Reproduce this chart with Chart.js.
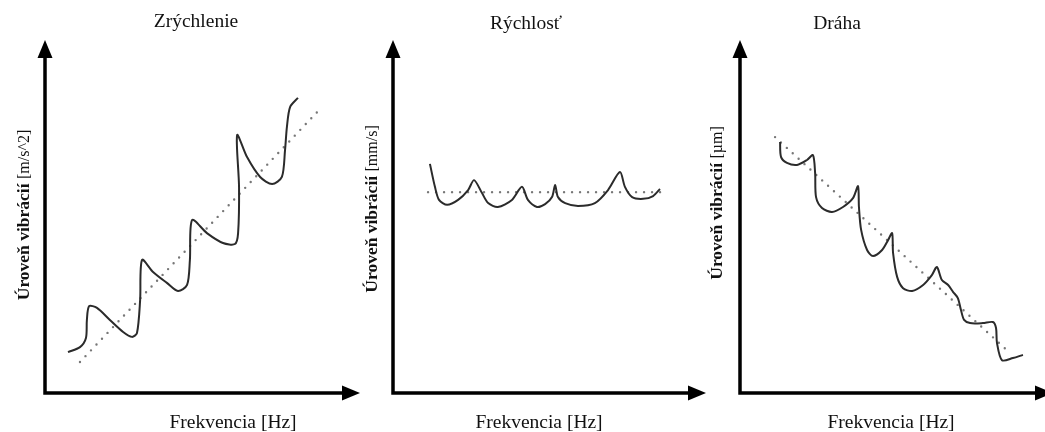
<!DOCTYPE html>
<html>
<head>
<meta charset="utf-8">
<script src="https://cdn.jsdelivr.net/npm/chart.js@4.4.1/dist/chart.umd.min.js"></script>
<style>
  html, body { margin: 0; padding: 0; background: #fff; overflow: hidden; width: 1045px; height: 432px; }
  .panel { position: absolute; top: 0; }
</style>
</head>
<body>
<div class="panel" style="left:0px"><canvas id="c0" width="370" height="432"></canvas></div>
<div class="panel" style="left:345px"><canvas id="c1" width="370" height="432"></canvas></div>
<div class="panel" style="left:690px"><canvas id="c2" width="370" height="432"></canvas></div>
<script>
// ---------- texts ----------
const TITLES = ["Zrýchlenie", "Rýchlosť", "Dráha"];
const X_LABELS = ["Frekvencia [Hz]", "Frekvencia [Hz]", "Frekvencia [Hz]"];
const Y_LABELS = ["Úroveň vibrácií", "Úroveň vibrácií", "Úroveň vibrácií"];
const Y_UNITS = ["[m/s^2]", "[mm/s]", "[µm]"];

// ---------- data (frequency 0..100, level 0..100, arbitrary units) ----------
// Zrýchlenie (acceleration)
const ACC_FREQ  = [7.3, 11.1, 13.0, 13.3, 14.0, 16.5, 20.6, 24.8, 27.6, 29.2, 30.2, 30.8, 34.3, 38.7, 42.2, 45.1, 46.0, 46.7, 51.4, 56.5, 60.3, 61.3, 61.6, 61.0, 64.1, 68.3, 72.1, 75.2, 76.2, 76.8, 77.8, 80.3];
const ACC_LEVEL = [11.6, 13.0, 15.6, 20.7, 24.6, 24.1, 20.7, 17.3, 15.9, 17.0, 26.3, 37.7, 34.3, 31.2, 28.9, 30.6, 37.7, 49.0, 45.3, 42.5, 42.2, 45.3, 58.4, 73.1, 66.9, 61.2, 59.2, 61.2, 68.8, 75.4, 81.0, 83.6];
const ACC_TREND_FREQ  = [11.1, 87.9];
const ACC_TREND_LEVEL = [8.8, 81.0];

// Rýchlosť (velocity)
const VEL_FREQ  = [11.8, 13.4, 14.7, 17.3, 20.8, 24.0, 25.9, 28.4, 30.4, 33.5, 38.0, 41.2, 43.1, 46.0, 48.6, 50.8, 51.8, 52.7, 55.0, 59.1, 64.5, 68.7, 72.5, 74.1, 76.4, 79.9, 83.1, 85.3];
const VEL_LEVEL = [64.9, 58.4, 54.7, 53.3, 54.7, 57.5, 60.3, 56.7, 53.8, 52.7, 54.7, 58.4, 54.7, 52.7, 53.5, 55.5, 58.9, 55.5, 53.8, 53.0, 53.8, 57.5, 62.6, 58.4, 55.5, 55.0, 55.8, 57.8];
const VEL_TREND_FREQ  = [11.2, 86.3];
const VEL_TREND_LEVEL = [56.9, 56.9];

// Dráha (displacement)
const DIS_FREQ  = [12.8, 13.1, 15.0, 18.2, 21.4, 23.3, 24.0, 24.3, 26.2, 29.4, 32.9, 36.1, 37.7, 38.0, 38.7, 40.6, 42.5, 45.4, 47.3, 48.6, 48.9, 50.2, 52.1, 55.0, 58.5, 61.3, 62.9, 64.5, 66.5, 68.1, 69.6, 70.6, 71.6, 73.5, 77.6, 80.8, 81.8, 82.1, 83.7, 87.2, 90.4];
const DIS_LEVEL = [71.1, 66.9, 65.2, 64.6, 66.0, 67.4, 62.3, 55.5, 52.4, 51.3, 52.7, 55.2, 58.6, 52.7, 46.2, 40.5, 38.8, 40.5, 43.3, 45.3, 39.7, 32.9, 29.7, 28.9, 30.6, 33.4, 35.7, 32.0, 30.6, 28.6, 26.9, 23.5, 20.7, 19.8, 19.8, 20.1, 18.4, 14.2, 9.3, 9.9, 10.8];
const DIS_TREND_FREQ  = [11.2, 86.3];
const DIS_TREND_LEVEL = [72.5, 11.3];

// ---------- layout (positions in canvas pixels, not data) ----------
const PANELS = [
  { id: "c0", pad: { left: 45, right: 10, top: 40, bottom: 39 }, titleX: 196, titleY: 27, xLabX: 233, yLabX: 29, yLabC: 215 },
  { id: "c1", pad: { left: 48, right: 9,  top: 40, bottom: 39 }, titleX: 181, titleY: 29, xLabX: 194, yLabX: 32, yLabC: 209 },
  { id: "c2", pad: { left: 50, right: 7,  top: 40, bottom: 39 }, titleX: 147, titleY: 29, xLabX: 201, yLabX: 32, yLabC: 203 }
];

const SERIES = [
  [ACC_FREQ, ACC_LEVEL, ACC_TREND_FREQ, ACC_TREND_LEVEL],
  [VEL_FREQ, VEL_LEVEL, VEL_TREND_FREQ, VEL_TREND_LEVEL],
  [DIS_FREQ, DIS_LEVEL, DIS_TREND_FREQ, DIS_TREND_LEVEL]
];

const zip = (xs, ys) => xs.map((x, i) => ({ x: x, y: ys[i] }));

const SERIF = "'Liberation Serif', 'Times New Roman', serif";

const decorPlugin = {
  id: "decor",
  afterDraw(chart, args, opts) {
    const ctx = chart.ctx;
    const a = chart.chartArea;
    ctx.save();
    // axes with arrowheads
    ctx.strokeStyle = "#000";
    ctx.fillStyle = "#000";
    ctx.lineWidth = 3.5;
    ctx.lineJoin = "miter";
    ctx.beginPath();
    ctx.moveTo(a.left, a.top + 12);
    ctx.lineTo(a.left, a.bottom);
    ctx.lineTo(a.right - 12, a.bottom);
    ctx.stroke();
    ctx.beginPath();
    ctx.moveTo(a.left, a.top);
    ctx.lineTo(a.left - 7.5, a.top + 18);
    ctx.lineTo(a.left + 7.5, a.top + 18);
    ctx.closePath();
    ctx.fill();
    ctx.beginPath();
    ctx.moveTo(a.right, a.bottom);
    ctx.lineTo(a.right - 18, a.bottom - 7.5);
    ctx.lineTo(a.right - 18, a.bottom + 7.5);
    ctx.closePath();
    ctx.fill();

    // title
    ctx.fillStyle = "#111";
    ctx.textAlign = "center";
    ctx.textBaseline = "alphabetic";
    ctx.font = "19.5px " + SERIF;
    ctx.fillText(opts.title, opts.titleX, opts.titleY);
    // x label
    ctx.fillText(opts.xLabel, opts.xLabX, 428);

    // y label (bold part + normal unit part), rotated
    const boldFont = "bold 17.5px " + SERIF;
    const unitFont = "16px " + SERIF;
    ctx.font = boldFont;
    const wb = ctx.measureText(opts.yLabel + " ").width;
    ctx.font = unitFont;
    const wu = ctx.measureText(opts.yUnit).width;
    const total = wb + wu;
    ctx.translate(opts.yLabX, opts.yLabC + total / 2);
    ctx.rotate(-Math.PI / 2);
    ctx.textAlign = "left";
    ctx.font = boldFont;
    ctx.fillText(opts.yLabel, 0, 0);
    ctx.font = unitFont;
    ctx.fillText(opts.yUnit, wb, 0);
    ctx.restore();
  }
};

PANELS.forEach((p, i) => {
  const [fx, fy, tx, ty] = SERIES[i];
  new Chart(document.getElementById(p.id), {
    type: "scatter",
    data: {
      datasets: [
        {
          data: zip(fx, fy),
          showLine: true,
          borderColor: "#2b2b2b",
          borderWidth: 2,
          pointRadius: 0,
          tension: 0.28,
          fill: false
        },
        {
          data: zip(tx, ty),
          showLine: true,
          borderColor: "#777",
          borderWidth: 2.4,
          borderDash: [0, 8],
          borderCapStyle: "round",
          pointRadius: 0,
          tension: 0,
          fill: false
        }
      ]
    },
    options: {
      responsive: false,
      devicePixelRatio: 1,
      animation: false,
      layout: { padding: p.pad },
      scales: {
        x: { type: "linear", min: 0, max: 100, display: false },
        y: { type: "linear", min: 0, max: 100, display: false }
      },
      plugins: {
        legend: { display: false },
        tooltip: { enabled: false },
        title: { display: false },
        decor: {
          title: TITLES[i],
          xLabel: X_LABELS[i],
          yLabel: Y_LABELS[i],
          yUnit: Y_UNITS[i],
          titleX: p.titleX,
          titleY: p.titleY,
          xLabX: p.xLabX,
          yLabX: p.yLabX,
          yLabC: p.yLabC
        }
      }
    },
    plugins: [decorPlugin]
  });
});
</script>
</body>
</html>
